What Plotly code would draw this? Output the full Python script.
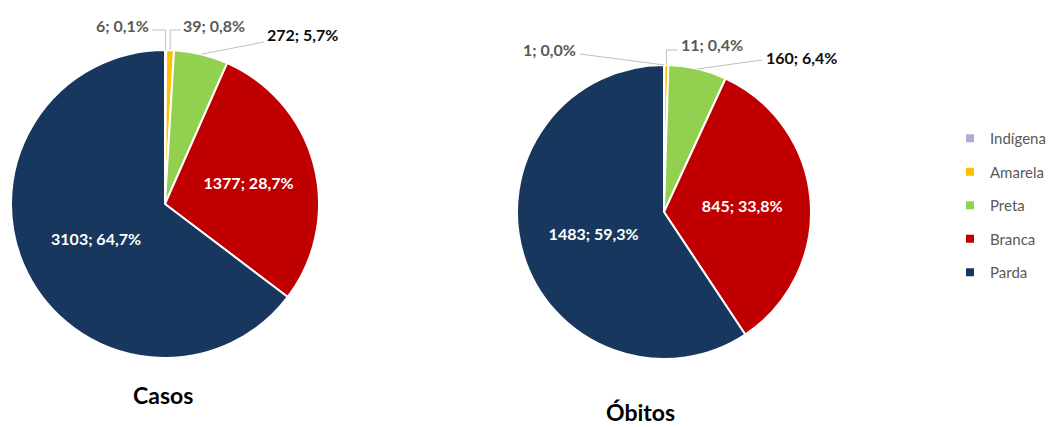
import math
import plotly.graph_objects as go

# ---------------- data ----------------
categorias = ["Indígena", "Amarela", "Preta", "Branca", "Parda"]
casos = [6, 39, 272, 1377, 3103]
obitos = [1, 11, 160, 845, 1483]
titulos = ["Casos", "Óbitos"]
cores = ["#B4A7D6", "#FFC000", "#92D050", "#C00000", "#17375E"]

# ---------------- layout settings ----------------
W, H = 1053, 427
FONT = "Lato"
# pie geometry in pixels: centre x, centre y, radius
pies = [(165, 204, 154), (664, 212, 147)]
title_pos = [(163, 395), (640, 412)]
# outside label placement (px) for the 3 small slices of each pie:
# (text centre x, text centre y, kind, a, b)
#   kind "elbow": vertical up to y=a, then horizontal to x=b
#   kind "straight": straight line to (a, b)
out_specs = [
    [(122, 26, "elbow", 30, 152), (214, 26, "elbow", 30, 181), (302, 35, "straight", 264, 42)],
    [(550, 49, "straight", 580, 54), (712, 44, "elbow", 50, 678), (801, 57, "straight", 762, 60)],
]
out_colors = ["#595959", "#595959", "#0D0D0D"]


def pfx(x):
    return x / W


def pfy(y):
    return 1 - y / H


def lab(v, tot):
    return f"{v}; {100 * v / tot:.1f}%".replace(".", ",")


fig = go.Figure()
shapes = []
annotations = []

for k, vals in enumerate([casos, obitos]):
    cx, cy, r = pies[k]
    tot = sum(vals)
    texts = [lab(v, tot) if i >= 3 else "" for i, v in enumerate(vals)]
    fig.add_trace(go.Pie(
        labels=categorias, values=vals, text=texts, textinfo="text",
        textposition="inside", insidetextorientation="horizontal",
        sort=False, direction="clockwise", rotation=0,
        marker=dict(colors=cores, line=dict(color="white", width=2)),
        textfont=dict(family=FONT, size=16, color="white", weight="bold"),
        domain=dict(x=[pfx(cx - r), pfx(cx + r)], y=[pfy(cy + r), pfy(cy - r)]),
        showlegend=False, hoverinfo="label+value+percent",
    ))
    # outside labels for the small slices
    cum = 0
    for i, v in enumerate(vals):
        mid = (cum + v / 2) / tot
        cum += v
        if i >= 3:
            continue
        th = 2 * math.pi * mid
        ex, ey = cx + r * math.sin(th), cy - r * math.cos(th)
        tx, ty, kind, a, b = out_specs[k][i]
        if kind == "elbow":
            path = f"M {pfx(ex)},{pfy(ey)} L {pfx(ex)},{pfy(a)} L {pfx(b)},{pfy(a)}"
        else:
            path = f"M {pfx(ex)},{pfy(ey)} L {pfx(a)},{pfy(b)}"
        shapes.append(dict(type="path", path=path, xref="paper", yref="paper",
                           line=dict(color="#BFBFBF", width=1)))
        annotations.append(dict(
            x=pfx(tx), y=pfy(ty), xref="paper", yref="paper", showarrow=False,
            text=f"<b>{lab(v, tot)}</b>", xanchor="center", yanchor="middle",
            font=dict(family=FONT, size=16, color=out_colors[i])))
    tpx, tpy = title_pos[k]
    annotations.append(dict(
        x=pfx(tpx), y=pfy(tpy), xref="paper", yref="paper", showarrow=False,
        text=f"<b>{titulos[k]}</b>", xanchor="center", yanchor="middle",
        font=dict(family=FONT, size=23, color="black")))

# legend entries
for cat, col in zip(categorias, cores):
    fig.add_trace(go.Scatter(
        x=[None], y=[None], mode="markers", name=cat, legendgroup=cat,
        marker=dict(symbol="square", size=8, color=col)))

fig.update_layout(
    width=W, height=H,
    margin=dict(l=0, r=0, t=0, b=0),
    paper_bgcolor="white", plot_bgcolor="white",
    xaxis=dict(visible=False), yaxis=dict(visible=False),
    shapes=shapes, annotations=annotations,
    legend=dict(x=pfx(950), xanchor="left", y=pfy(122), yanchor="top",
                font=dict(family=FONT, size=15, color="#595959"),
                tracegroupgap=11, itemwidth=30, bgcolor="rgba(0,0,0,0)"),
    font=dict(family=FONT),
)

fig.write_html("out.html", config={"displayModeBar": False},
               post_script="document.body.style.margin='0px';")
